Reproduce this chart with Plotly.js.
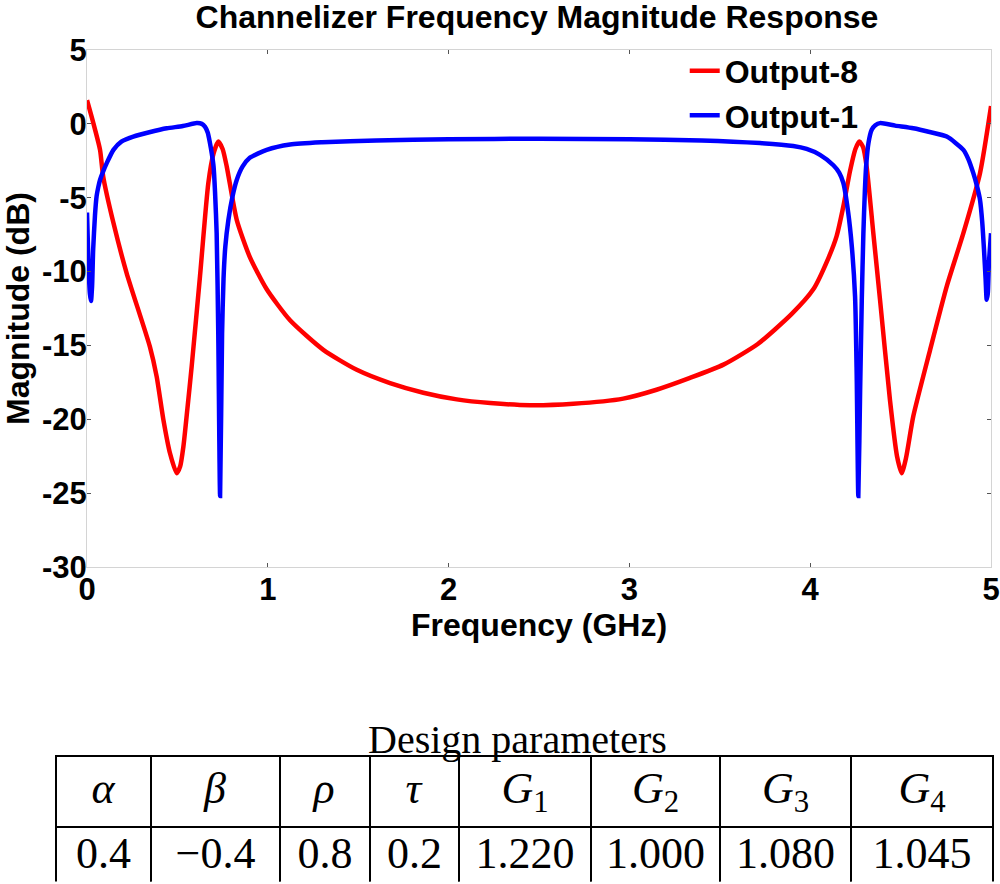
<!DOCTYPE html>
<html>
<head>
<meta charset="utf-8">
<script src="https://cdn.plot.ly/plotly-3.0.1.min.js"></script>
<style>html,body{margin:0;padding:0;background:#fff;}#chart{width:1000px;height:884px;}</style>
</head>
<body>
<div id="chart"></div>
<script>
// Output-1 (blue)
const out1X = [0, 0.008, 0.016, 0.022, 0.028, 0.034, 0.044, 0.053, 0.062, 0.072, 0.09, 0.109, 0.146, 0.19, 0.256, 0.35, 0.441, 0.53, 0.606, 0.635, 0.653, 0.668, 0.68, 0.69, 0.70, 0.708, 0.717, 0.726, 0.736, 0.747, 0.755, 0.765, 0.782, 0.805, 0.828, 0.86, 0.90, 0.994, 1.123, 1.3, 1.6, 2.0, 2.5, 3.0, 3.4, 3.722, 3.906, 3.98, 4.054, 4.128, 4.16, 4.183, 4.21, 4.23, 4.248, 4.257, 4.266, 4.276, 4.285, 4.294, 4.302, 4.309, 4.322, 4.34, 4.36, 4.386, 4.47, 4.57, 4.66, 4.755, 4.847, 4.875, 4.902, 4.922, 4.939, 4.951, 4.961, 4.97, 4.976, 4.982, 4.988, 5.0];
const out1Y = [-6.0, -9.5, -11.5, -12.0, -11.0, -8.5, -6.2, -4.9, -4.3, -3.8, -3.2, -2.66, -1.76, -1.2, -0.86, -0.55, -0.3, -0.15, 0.05, 0.0, -0.2, -0.6, -1.3, -2.0, -2.9, -4.6, -7.4, -14.2, -25.2, -14.2, -10.5, -8.3, -6.5, -4.9, -3.8, -2.9, -2.3, -1.76, -1.4, -1.25, -1.12, -1.05, -1.0, -1.05, -1.12, -1.3, -1.5, -1.7, -2.1, -2.8, -3.3, -4.0, -6.0, -8.3, -11.7, -17.0, -25.2, -18.0, -12.0, -7.4, -4.6, -2.9, -1.3, -0.4, -0.1, 0.05, -0.12, -0.3, -0.55, -0.86, -1.76, -2.4, -3.34, -4.2, -5.14, -6.6, -8.5, -10.5, -11.9, -11.5, -9.5, -7.4];

// Output-8 (red)
const out8X = [0, 0.035, 0.072, 0.09, 0.146, 0.219, 0.348, 0.385, 0.422, 0.459, 0.496, 0.515, 0.533, 0.555, 0.579, 0.625, 0.671, 0.70, 0.726, 0.75, 0.773, 0.828, 0.90, 0.994, 1.123, 1.307, 1.492, 1.676, 1.86, 2.045, 2.23, 2.45, 2.69, 2.966, 3.15, 3.335, 3.52, 3.71, 3.895, 4.017, 4.1, 4.146, 4.183, 4.22, 4.25, 4.272, 4.293, 4.312, 4.349, 4.386, 4.441, 4.48, 4.506, 4.53, 4.57, 4.663, 4.755, 4.847, 4.939, 5.0];
const out8Y = [1.6, 0.05, -1.76, -3.6, -6.7, -10.1, -15.1, -17.1, -20.0, -22.3, -23.65, -23.2, -21.85, -19.3, -16.4, -10.3, -4.0, -2.0, -1.2, -1.7, -2.9, -6.5, -9.0, -11.2, -13.3, -15.3, -16.65, -17.55, -18.2, -18.65, -18.9, -19.05, -18.95, -18.6, -18.0, -17.2, -16.3, -14.9, -12.9, -11.2, -9.1, -7.6, -5.6, -3.2, -1.7, -1.2, -1.6, -2.9, -7.4, -11.9, -18.7, -22.5, -23.65, -22.6, -19.8, -15.3, -11.0, -7.4, -3.34, 1.2];

const xTicks = [0, 1, 2, 3, 4, 5];
const xTickText = ['0', '1', '2', '3', '4', '5'];
const yTicks = [5, 0, -5, -10, -15, -20, -25, -30];
const yTickText = ['5', '0', '-5', '-10', '-15', '-20', '-25', '-30'];

// Design parameters table
const paramNames = ['<i>α</i>', '<i>β</i>', '<i>ρ</i>', '<i>τ</i>', '<i>G</i><sub>1</sub>', '<i>G</i><sub>2</sub>', '<i>G</i><sub>3</sub>', '<i>G</i><sub>4</sub>'];
const paramValues = ['0.4', '−0.4', '0.8', '0.2', '1.220', '1.000', '1.080', '1.045'];
const colWidths = [95, 129, 90, 89, 132, 129, 131, 142];

const sans = 'Liberation Sans, Arial, sans-serif';
const serif = 'Liberation Serif, Times New Roman, serif';

const traces = [
  {x: out8X, y: out8Y, type: 'scatter', mode: 'lines', name: 'Output-8',
   line: {color: '#ff0000', width: 4.5, shape: 'spline', smoothing: 0.6}},
  {x: out1X, y: out1Y, type: 'scatter', mode: 'lines', name: 'Output-1',
   line: {color: '#0000ff', width: 4.5, shape: 'spline', smoothing: 0.6}},
  {type: 'table', domain: {x: [0, 1], y: [0, 0.152]},
   columnwidth: colWidths,
   header: {values: paramNames, height: 64, align: 'center',
            line: {color: '#000', width: 2}, fill: {color: '#fff'},
            font: {family: serif, size: 44, color: '#000'}},
   cells: {values: paramValues.map(v => [v]), height: 60, align: 'center',
           line: {color: '#000', width: 2}, fill: {color: '#fff'},
           font: {family: serif, size: 44, color: '#000'}}}
];

const tickFont = {family: sans, size: 31, weight: 'bold', color: '#000'};
const titleFont = {family: sans, size: 32, weight: 'bold', color: '#000'};

const layout = {
  width: 1000, height: 884,
  margin: {l: 56, r: 7, t: 50, b: 2},
  paper_bgcolor: '#fff', plot_bgcolor: '#fff',
  title: {text: 'Channelizer Frequency Magnitude Response',
          font: {family: sans, size: 32, weight: 'bold', color: '#000'},
          x: 0.537, xref: 'container', xanchor: 'center',
          y: 0.981, yref: 'container', yanchor: 'middle'},
  xaxis: {domain: [0.0331, 0.9979], range: [0, 5], tickvals: xTicks, ticktext: xTickText,
          showgrid: false, zeroline: false, showline: true, linecolor: '#d4d4d4', linewidth: 1,
          mirror: 'ticks', ticks: 'inside', ticklen: 4, tickcolor: '#555',
          ticklabelstandoff: -5,
          tickfont: tickFont,
          title: {text: 'Frequency (GHz)', standoff: 2, font: titleFont}},
  yaxis: {domain: [0.3786, 1], range: [-30, 5], tickvals: yTicks, ticktext: yTickText,
          showgrid: false, zeroline: false, showline: true, linecolor: '#d4d4d4', linewidth: 1,
          mirror: 'ticks', ticks: 'inside', ticklen: 4, tickcolor: '#555',
          ticklabelstandoff: -7,
          tickfont: tickFont,
          title: {text: 'Magnitude (dB)', standoff: 9, font: titleFont}},
  showlegend: true,
  legend: {x: 0.671, xanchor: 'left', y: 1.008, yanchor: 'top',
           bgcolor: 'rgba(0,0,0,0)', itemwidth: 30, tracegroupgap: 0,
           font: {family: sans, size: 32, weight: 'bold', color: '#000'}},
  annotations: [
    {text: 'Design parameters', xref: 'paper', yref: 'paper', x: 0.493, y: 0.1707,
     xanchor: 'center', yanchor: 'middle', showarrow: false,
     font: {family: serif, size: 40, color: '#000'}}
  ]
};

Plotly.newPlot('chart', traces, layout, {displayModeBar: false, staticPlot: true});
</script>
</body>
</html>
